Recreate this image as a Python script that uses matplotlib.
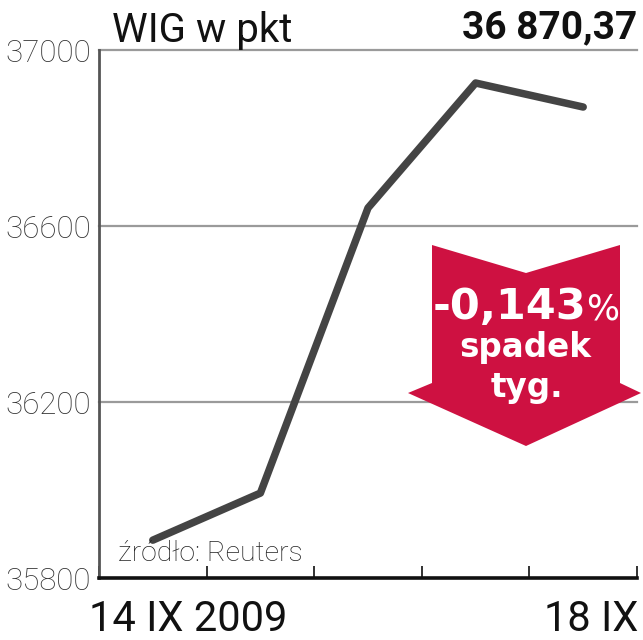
import matplotlib
matplotlib.use("Agg")
import matplotlib.pyplot as plt
from matplotlib.patches import Polygon
from matplotlib import font_manager as fm

# ---- data ----
days = ["14 IX", "15 IX", "16 IX", "17 IX", "18 IX"]
wig_values = [35886, 35993, 36641, 36925, 36870.37]
y_ticks = [35800, 36200, 36600, 37000]
x_label_first = "14 IX 2009"
x_label_last = "18 IX"
title_text = "WIG w pkt"
last_value_text = "36 870,37"
change_text = "-0,143"
change_sub = ["spadek", "tyg."]
source_text = "źródło: Reuters"

names = {f.name for f in fm.fontManager.ttflist}
main_font = "Roboto" if "Roboto" in names else "DejaVu Sans"
arrow_font = "DejaVu Sans"

W, H = 643, 640
fig = plt.figure(figsize=(W / 100, H / 100), dpi=100)
fig.patch.set_facecolor("white")

def fx(px):
    return px / W

def fy(py):
    return 1 - py / H

ax_l, ax_r, ax_t, ax_b = 99, 637, 50, 578
ax = fig.add_axes([fx(ax_l), fy(ax_b), fx(ax_r) - fx(ax_l), fy(ax_t) - fy(ax_b)])

xs = list(range(len(wig_values)))
ax.plot(xs, wig_values, color="#444444", lw=5.4, solid_capstyle="round",
        solid_joinstyle="round", zorder=3)

ax.set_xlim(-0.5, len(wig_values) - 0.5)
ax.set_ylim(y_ticks[0], y_ticks[-1])
ax.set_yticks(y_ticks)
ax.set_yticklabels([str(v) for v in y_ticks])
ax.set_xticks([i - 0.5 for i in range(len(wig_values) + 1)])
ax.set_xticklabels([])

for v in y_ticks[1:]:
    ax.axhline(v, color="#9a9a9a", lw=1.6, zorder=1, clip_on=False)

for s in ["top", "right"]:
    ax.spines[s].set_visible(False)
ax.spines["left"].set_color("#555555")
ax.spines["left"].set_linewidth(2.0)
ax.spines["bottom"].set_color("#111111")
ax.spines["bottom"].set_linewidth(2.6)

ax.tick_params(axis="x", direction="in", length=9, width=1.3, color="#222222")
ax.tick_params(axis="y", length=0, pad=6, labelsize=22.5, labelcolor="#333333")
for lab in ax.get_yticklabels():
    lab.set_fontfamily(main_font)
    lab.set_fontweight("light")
ax.set_facecolor("white")

# x labels
fig.text(fx(188), fy(631), x_label_first, ha="center", va="baseline", fontsize=30,
         family=main_font, color="#111111")
fig.text(fx(638), fy(631), x_label_last, ha="right", va="baseline", fontsize=30,
         family=main_font, color="#111111")

# source
fig.text(fx(118), fy(561), source_text, ha="left", va="baseline", fontsize=20.5,
         family=main_font, fontweight="light", color="#222222")

# titles
fig.text(fx(112), fy(42), title_text, ha="left", va="baseline", fontsize=29,
         family=main_font, color="#111111")
fig.text(fx(637), fy(38), last_value_text, ha="right", va="baseline", fontsize=28,
         family=main_font, fontweight="bold", color="#111111")

# red arrow
arrow_px = [(432, 245), (526, 273), (620, 245), (620, 383), (641, 393),
            (526, 446), (408, 393), (432, 383)]
poly = Polygon([(fx(x), fy(y)) for x, y in arrow_px], closed=True,
               transform=fig.transFigure, facecolor="#CE1141", edgecolor="none",
               zorder=5)
fig.patches.append(poly)

fig.text(fx(586), fy(319), change_text, ha="right", va="baseline", fontsize=31,
         family=arrow_font, fontweight="bold", color="white", zorder=6)
fig.text(fx(586), fy(319), "%", ha="left", va="baseline", fontsize=25,
         family=arrow_font, color="white", zorder=6)
fig.text(fx(525), fy(357), change_sub[0], ha="center", va="baseline", fontsize=23.5,
         family=arrow_font, fontweight="bold", color="white", zorder=6)
fig.text(fx(527), fy(397), change_sub[1], ha="center", va="baseline", fontsize=23.5,
         family=arrow_font, fontweight="bold", color="white", zorder=6)

fig.savefig("out.png", dpi=100, facecolor="white")
